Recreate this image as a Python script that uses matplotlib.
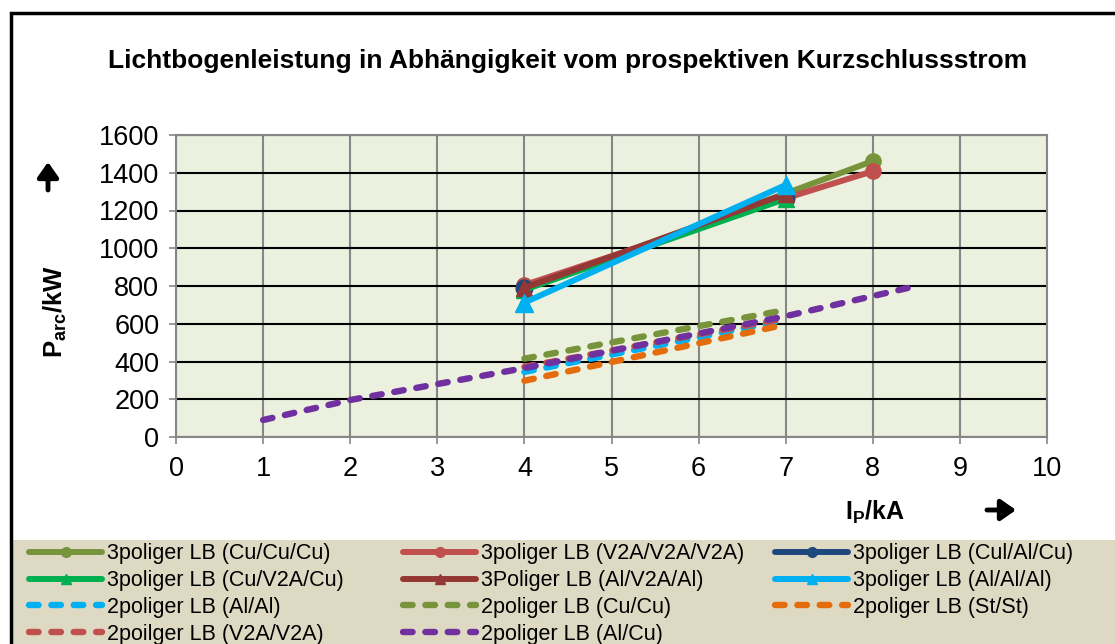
'''Lichtbogenleistung chart - recreated with matplotlib'''

import matplotlib
matplotlib.use('Agg')
import matplotlib.pyplot as plt
from matplotlib.patches import Rectangle
from matplotlib.lines import Line2D

plt.rcParams['font.family'] = ['Liberation Sans', 'DejaVu Sans']
plt.rcParams['mathtext.fontset'] = 'custom'
plt.rcParams['mathtext.bf'] = 'Liberation Sans:bold'
plt.rcParams['mathtext.rm'] = 'Liberation Sans'

# 3poliger LB series (solid lines with markers)
x3 = [4, 7]
x3_cu = [4, 7, 8]
p_cu_cu_cu = [785, 1290, 1462]
p_v2a_v2a_v2a = [805, 1265, 1408]
p_cul_al_cu = [790, 1268]
p_cu_v2a_cu = [780, 1262]
p_al_v2a_al = [790, 1288]
p_al_al_al = [712, 1335]

# 2poliger LB series (dashed lines)
x2 = [4, 7]
p2_al_al = [345, 620]
p2_cu_cu = [415, 673]
p2_st_st = [298, 596]
p2_v2a_v2a = [372, 630]
x2_al_cu = [1, 2, 4, 7, 8.5]
p2_al_cu = [90, 196, 365, 640, 800]

labels = ['3poliger LB (Cu/Cu/Cu)', '3poliger LB (V2A/V2A/V2A)', '3poliger LB (Cul/Al/Cu)',
          '3poliger LB (Cu/V2A/Cu)', '3Poliger LB (Al/V2A/Al)', '3poliger LB (Al/Al/Al)',
          '2poliger LB (Al/Al)', '2poliger LB (Cu/Cu)', '2poliger LB (St/St)',
          '2poilger LB (V2A/V2A)', '2poliger LB (Al/Cu)']

fig = plt.figure(figsize=(11.15, 6.44), dpi=100)

# outer frame and legend background
fig.patches.append(Rectangle((12/1115, -0.05), 1.1, 0.05 + 104/644, transform=fig.transFigure,
                             facecolor='#DDD9C3', edgecolor='none', zorder=0))
fig.patches.append(Rectangle((11/1115, -0.05), 1.1, 1.05 - 13/644, transform=fig.transFigure,
                             facecolor='none', edgecolor='black', lw=2.5, zorder=1))

ax = fig.add_axes([176/1115, 1 - 437/644, 871/1115, 302/644])
ax.set_facecolor('#EBF1DE')

lw = 4.3
dlw = 4.6
ms = 11
dash = (1.5, 2.0)
h = []
h += ax.plot(x3_cu, p_cu_cu_cu, '-o', color='#77933C', lw=lw, ms=ms, zorder=3)
h += ax.plot(x3_cu, p_v2a_v2a_v2a, '-o', color='#C0504D', lw=lw, ms=ms, zorder=3)
h += ax.plot(x3, p_cul_al_cu, '-o', color='#1F497D', lw=lw, ms=ms + 1, zorder=3)
h += ax.plot(x3, p_cu_v2a_cu, '-^', color='#00B050', lw=lw, ms=ms, zorder=3)
h += ax.plot(x3, p_al_v2a_al, '-^', color='#953735', lw=lw, ms=ms, zorder=3)
h += ax.plot(x3, p_al_al_al, '-^', color='#00B0F0', lw=lw, ms=ms + 2, zorder=3)
for xs, ys, c in [(x2, p2_al_al, '#00B0F0'), (x2, p2_cu_cu, '#77933C'), (x2, p2_st_st, '#E46C0A'),
                  (x2, p2_v2a_v2a, '#C0504D'), (x2_al_cu, p2_al_cu, '#7030A0')]:
    h += ax.plot(xs, ys, '--', color=c, lw=dlw, dashes=dash, dash_capstyle='round', zorder=3)

ax.set_xlim(0, 10)
ax.set_ylim(0, 1600)
ax.set_xticks(range(0, 11))
ax.set_yticks(range(0, 1601, 200))
ax.grid(axis='y', color='black', lw=1.5, zorder=1)
ax.grid(axis='x', color='#868686', lw=1.5, zorder=1)
ax.set_axisbelow(True)
for s in ax.spines.values():
    s.set_color('#868686')
    s.set_linewidth(1.5)
ax.tick_params(colors='#868686', labelcolor='black', labelsize=19.5, length=5, width=1.2)
ax.tick_params(axis='x', pad=9)
ax.tick_params(axis='y', pad=7)

fig.text(568/1115, 1 - 61/644, 'Lichtbogenleistung in Abhängigkeit vom prospektiven Kurzschlussstrom',
         ha='center', va='center', fontsize=19, fontweight='bold')
fig.text(55/1115, 1 - 312/644, r'$\mathbf{P_{arc}}$/kW', rotation=90, ha='center', va='center',
         fontsize=18.5, fontweight='bold')
fig.text(875/1115, 1 - 512/644, r'$\mathbf{I_P}$/kA', ha='center', va='center',
         fontsize=18, fontweight='bold')

# bold arrows next to the axis labels
arrow = dict(arrowstyle='-|>,head_length=0.5,head_width=0.35', lw=3.5, color='black',
             mutation_scale=18, shrinkA=0, shrinkB=0)
ax.annotate('', xy=(48/1115, 1 - 162/644), xytext=(48/1115, 1 - 190/644),
            xycoords='figure fraction', textcoords='figure fraction', arrowprops=arrow)
ax.annotate('', xy=(1016/1115, 1 - 510/644), xytext=(987/1115, 1 - 510/644),
            xycoords='figure fraction', textcoords='figure fraction', arrowprops=arrow)

# legend: one block per column, rows like the reference
columns = [[0, 3, 6, 9], [1, 4, 7, 10], [2, 5, 8]]
col_x = [26, 400, 772]
for col, cx in zip(columns, col_x):
    handles = []
    for i in col:
        ln = h[i]
        if ln.get_linestyle() == '--':
            handles.append(Line2D([], [], color=ln.get_color(), lw=dlw, dashes=dash,
                                  dash_capstyle='round'))
        else:
            handles.append(Line2D([], [], color=ln.get_color(), lw=lw, solid_capstyle='round',
                                  marker=ln.get_marker(), ms=7))
    leg = fig.legend(handles, [labels[i] for i in col], loc='upper left',
                     bbox_to_anchor=(cx/1115, 1 - 540/644), frameon=False, fontsize=15.5,
                     handlelength=3.4, handletextpad=0.2, labelspacing=0.27,
                     borderaxespad=0, borderpad=0.15)

fig.savefig('out.png', dpi=100)
